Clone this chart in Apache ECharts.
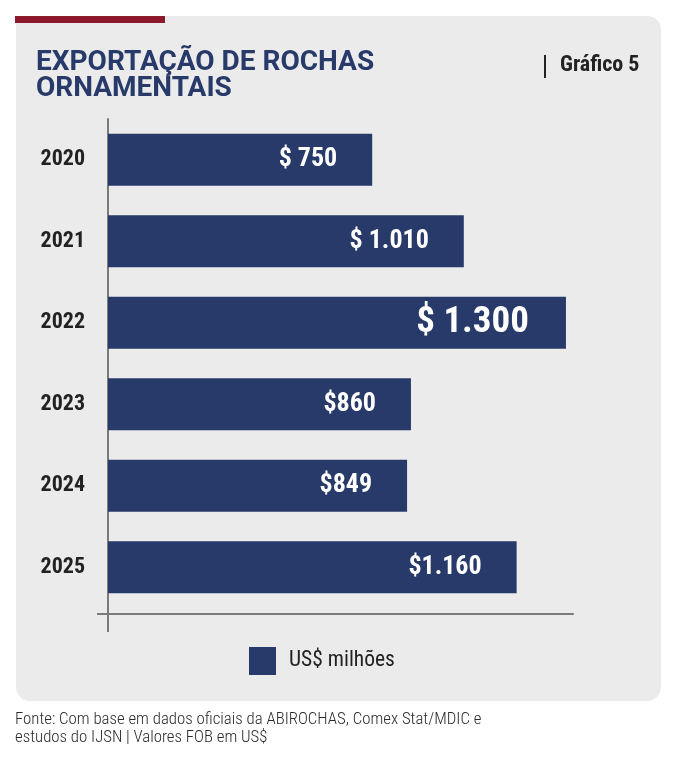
<!DOCTYPE html>
<html>
<head>
<meta charset="utf-8">
<script src="https://cdn.jsdelivr.net/npm/echarts@6/dist/echarts.min.js"></script>
<style>
  html, body { margin: 0; padding: 0; background: #fff; }
  #chart { width: 675px; height: 758px; }
</style>
</head>
<body>
<div id="chart"></div>
<script>
// dados do gráfico
const years = ['2020', '2021', '2022', '2023', '2024', '2025'];
const values = [750, 1010, 1300, 860, 849, 1160];
const valueLabels = ['$ 750', '$ 1.010', '$ 1.300', '$860', '$849', '$1.160'];
const seriesName = 'US$ milhões';

const FONT = '"Roboto Condensed","Liberation Sans Narrow","DejaVu Sans Condensed",Roboto,sans-serif';
const TITLE_FONT = 'Roboto,"Noto Sans",sans-serif';
const NAVY = '#283a6a';

const chart = echarts.init(document.getElementById('chart'));

// destaque do maior valor
const maxIdx = values.indexOf(Math.max(...values));

const option = {
  backgroundColor: '#fff',
  textStyle: { fontFamily: FONT },
  graphic: [
    // painel cinza
    { type: 'rect', shape: { x: 16, y: 16, width: 645, height: 685, r: [0, 14, 14, 14] }, style: { fill: '#ebebeb' }, z: -10 },
    // faixa vermelha
    { type: 'rect', shape: { x: 15, y: 16, width: 150, height: 7 }, style: { fill: '#8c1a2c' }, z: -9 },
    // barra vertical antes de "Gráfico 5"
    { type: 'line', shape: { x1: 545, y1: 55, x2: 545, y2: 78 }, style: { stroke: '#222', lineWidth: 2 } },
    { type: 'text', left: 560, top: 54, style: { text: 'Gráfico 5', font: 'bold 22px ' + FONT, fill: '#222' } },
    // prolongamentos dos eixos
    { type: 'line', shape: { x1: 108, y1: 606, x2: 108, y2: 632 }, style: { stroke: '#7a7a7a', lineWidth: 2 } },
    { type: 'line', shape: { x1: 97, y1: 614, x2: 109, y2: 614 }, style: { stroke: '#7a7a7a', lineWidth: 2 } },
    // fonte
    { type: 'text', left: 15, top: 711, style: {
      text: 'Fonte: Com base em dados oficiais da ABIROCHAS, Comex Stat/MDIC e\nestudos do IJSN | Valores FOB em US$',
      font: '300 16.8px ' + FONT, fill: '#2a2a2a', lineHeight: 18 } }
  ],
  title: {
    text: 'EXPORTAÇÃO DE ROCHAS\nORNAMENTAIS',
    left: 36,
    top: 50,
    padding: 0,
    textStyle: { fontFamily: TITLE_FONT, fontWeight: 'bold', fontSize: 28, lineHeight: 26, color: NAVY }
  },
  legend: {
    left: 244,
    top: 642,
    itemWidth: 27,
    itemHeight: 28,
    icon: 'rect',
    data: [seriesName],
    textStyle: { fontFamily: FONT, fontSize: 21.5, color: '#222', padding: [0, 0, 0, 8] }
  },
  grid: { left: 108, top: 119, width: 465, height: 489 },
  xAxis: {
    type: 'value',
    min: 0,
    max: 1320,
    offset: 6,
    axisLine: { show: true, lineStyle: { color: '#7a7a7a', width: 2 } },
    axisTick: { show: false },
    axisLabel: { show: false },
    splitLine: { show: false }
  },
  yAxis: {
    type: 'category',
    inverse: true,
    data: years,
    axisLine: { show: true, lineStyle: { color: '#7a7a7a', width: 2 } },
    axisTick: { show: false },
    axisLabel: { margin: 23, fontFamily: FONT, fontWeight: 'bold', fontSize: 22, color: '#222', padding: [4, 0, 0, 0] }
  },
  series: [{
    name: seriesName,
    type: 'bar',
    barWidth: 52,
    itemStyle: { color: NAVY },
    label: {
      show: true,
      position: 'insideRight',
      distance: 35,
      color: '#fff',
      fontFamily: FONT,
      fontWeight: 'bold',
      fontSize: 26,
      formatter: p => valueLabels[p.dataIndex]
    },
    data: values.map((v, i) => i === maxIdx
      ? { value: v, label: { fontSize: 37, distance: 37 } }
      : v)
  }]
};

chart.setOption(option);
</script>
</body>
</html>
